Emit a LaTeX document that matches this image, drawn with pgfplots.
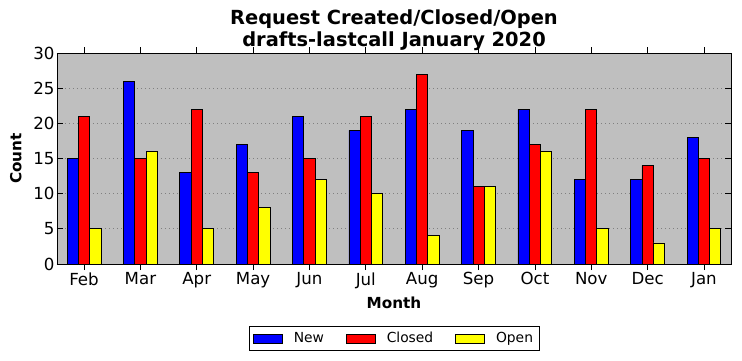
\documentclass[border=0pt]{standalone}
\usepackage{pgfplots}
\pgfplotsset{compat=1.18}
\usepackage{fontspec}
\setmainfont{DejaVu Sans}
\definecolor{bgc}{HTML}{BFBFBF}
\definecolor{cblue}{RGB}{0,0,255}
\definecolor{cred}{RGB}{255,0,0}
\definecolor{cyel}{RGB}{255,255,0}
\begin{document}
\begin{tikzpicture}
\begin{axis}[
  name=ax,
  scale only axis, width=674bp, height=211bp,
  xmin=-0.48, xmax=11.48, ymin=0, ymax=30,
  xtick={0,...,11},
  xticklabels={Feb,Mar,Apr,May,Jun,Jul,Aug,Sep,Oct,Nov,Dec,Jan},
  ytick={0,5,...,30},
  /pgf/number format/assume math mode=true,
  ymajorgrids, grid style={dash pattern=on 1bp off 3bp, black!50, line width=0.7pt},
  axis background/.style={fill=bgc},
  axis line style={black, line width=0.9pt},
  tick align=inside, tick pos=both,
  major tick length=6bp,
  every tick/.style={black, line width=0.7pt},
  ticklabel style={font=\fontsize{16.7}{19}\selectfont},
  xticklabel style={yshift=1bp},
  yticklabel style={xshift=1bp},
  xlabel={Month}, ylabel={Count},
  label style={font=\bfseries\fontsize{15.3}{18}\selectfont},
  xlabel style={yshift=-2bp},
  ylabel style={yshift=5bp},
  title={Request Created/Closed/Open\\drafts-lastcall January 2020},
  title style={align=center, font=\bfseries\fontsize{19.5}{22}\selectfont, yshift=-7bp},
  ybar, bar width=0.2,
  every axis plot/.append style={draw=black, line width=0.8pt},
  legend columns=3,
  legend style={at={(0.5,-0.294)}, anchor=north, draw=black, line width=0.8pt,
    font=\fontsize{13.9}{16}\selectfont, column sep=9bp, inner xsep=4bp, inner ysep=4bp,
    /tikz/every even column/.append style={column sep=20bp}},
  legend image code/.code={\draw[#1] (0bp,-4.5bp) rectangle (29bp,4.5bp);},
]
\addplot[fill=cblue, bar shift=-0.2] coordinates {(0,15)(1,26)(2,13)(3,17)(4,21)(5,19)(6,22)(7,19)(8,22)(9,12)(10,12)(11,18)};
\addplot[fill=cred, bar shift=0] coordinates {(0,21)(1,15)(2,22)(3,13)(4,15)(5,21)(6,27)(7,11)(8,17)(9,22)(10,14)(11,15)};
\addplot[fill=cyel, bar shift=0.2] coordinates {(0,5)(1,16)(2,5)(3,8)(4,12)(5,10)(6,4)(7,11)(8,16)(9,5)(10,3)(11,5)};
\legend{New,Closed,Open}
\end{axis}
\path (ax.south west) ++(-57bp,-97bp) rectangle ++(742bp,361bp);
\end{tikzpicture}
\end{document}
